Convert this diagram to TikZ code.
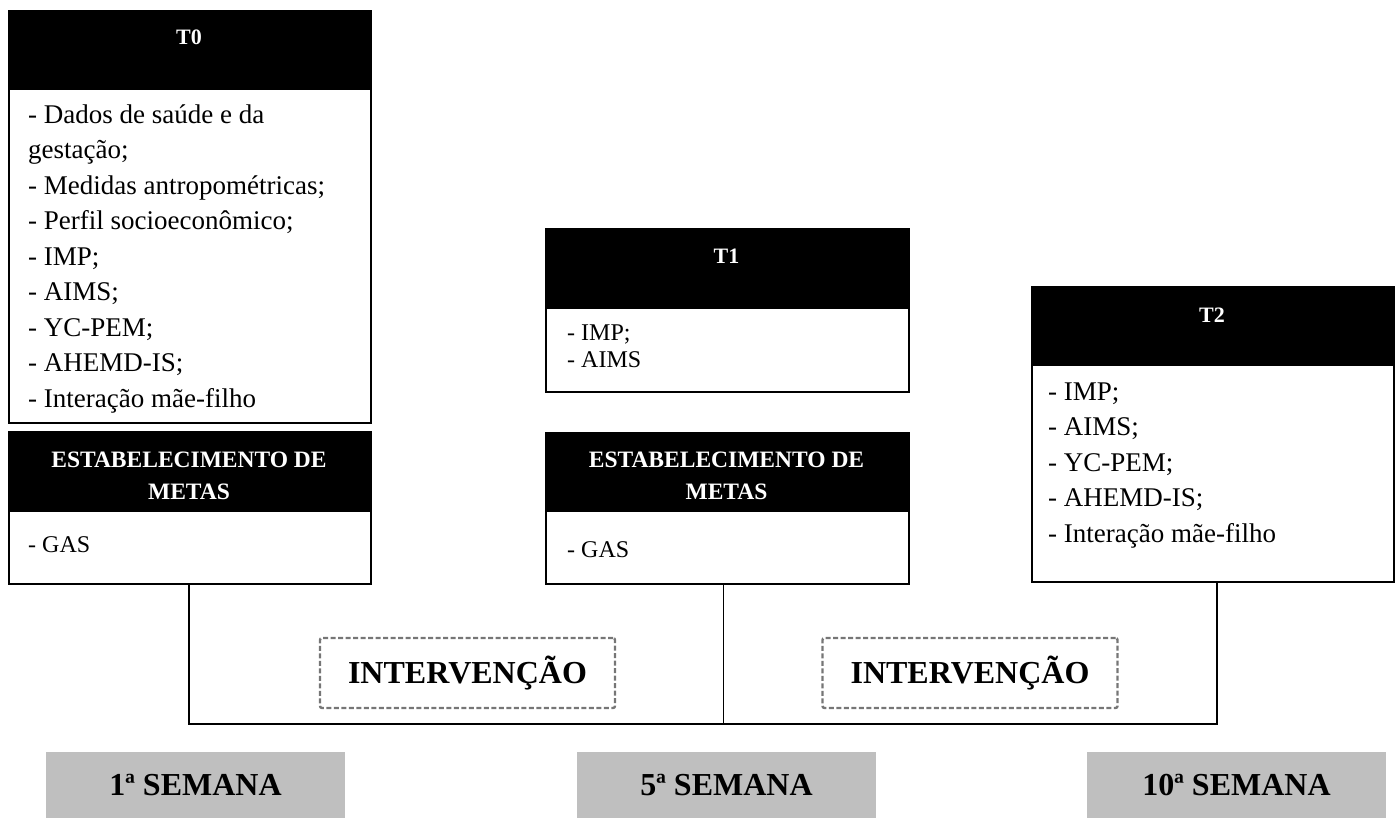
\documentclass[tikz,border=0pt]{standalone}
\usepackage{fontspec}
\setmainfont{Liberation Serif}
\definecolor{semgray}{HTML}{BFBFBF}
\definecolor{dashgray}{HTML}{767676}
\begin{document}
\begin{tikzpicture}[x=1pt,y=-1pt,
  box/.style={draw=black, line width=2pt, anchor=north west, inner sep=0pt, minimum width=362pt},
  hdr/.style={box, fill=black},
  bod/.style={box, fill=white},
  hdrtxt/.style={text=white, font=\fontsize{22}{25}\selectfont\bfseries, anchor=base, inner sep=0pt},
  esttxt/.style={text=white, font=\fontsize{23.5}{32}\selectfont\bfseries, align=center, anchor=north, inner sep=0pt},
  bodytxt/.style={anchor=north west, inner sep=0pt, align=left, font=\fontsize{27}{35.5}\selectfont},
  smalltxt/.style={anchor=north west, inner sep=0pt, align=left, font=\fontsize{24}{27}\selectfont},
  interv/.style={draw=dashgray, line width=2.4pt, dash pattern=on 5pt off 2.5pt, rounded corners=2pt, minimum width=295pt, minimum height=70pt, inner sep=0pt, font=\fontsize{32}{36}\selectfont\bfseries},
  semana/.style={fill=semgray, minimum width=299pt, minimum height=66pt, inner sep=0pt, font=\fontsize{32}{36}\selectfont\bfseries},
  conn/.style={draw=black, line width=1.3pt}
]
\useasboundingbox (0,0) rectangle (1397,818);

% T0
\node[hdr, minimum height=78pt] (t0h) at (8,10) {};
\node[bod, minimum height=334pt] (t0b) at (8,88) {};
\node[hdrtxt] (t0ht) at (189,45) {T0};
\node[bodytxt] (t0t) at (28,98) {\strut- Dados de saúde e da\\gestação;\\- Medidas antropométricas;\\- Perfil socioeconômico;\\- IMP;\\- AIMS;\\- YC-PEM;\\- AHEMD-IS;\\- Interação mãe-filho};

% EST1
\node[hdr, minimum height=79pt] (e1h) at (8,431) {};
\node[bod, minimum height=73pt] (e1b) at (8,510) {};
\node[esttxt] (e1ht) at (189,445) {\strut ESTABELECIMENTO DE\\METAS};
\node[smalltxt] (e1t) at (28,533) {\strut- GAS};

% T1
\node[hdr, minimum height=79pt, minimum width=363pt] (t1h) at (545,228) {};
\node[bod, minimum height=84pt, minimum width=363pt] (t1b) at (545,307) {};
\node[hdrtxt] (t1ht) at (726.5,264) {T1};
\node[smalltxt] (t1t) at (567,321) {\strut- IMP;\\- AIMS};

% EST2
\node[hdr, minimum height=78pt, minimum width=363pt] (e2h) at (545,432) {};
\node[bod, minimum height=73pt, minimum width=363pt] (e2b) at (545,510) {};
\node[esttxt] (e2ht) at (726.5,445) {\strut ESTABELECIMENTO DE\\METAS};
\node[smalltxt] (e2t) at (567,538) {\strut- GAS};

% T2
\node[hdr, minimum height=78pt] (t2h) at (1031,286) {};
\node[bod, minimum height=217pt] (t2b) at (1031,364) {};
\node[hdrtxt] (t2ht) at (1212,322) {T2};
\node[bodytxt] (t2t) at (1048,375) {\strut- IMP;\\- AIMS;\\- YC-PEM;\\- AHEMD-IS;\\- Interação mãe-filho};

% connectors
\coordinate (base) at (0,724);
\coordinate (c1) at ([xshift=-1pt]e1b.south);
\coordinate (c2) at ([xshift=-4pt]e2b.south);
\coordinate (c3) at ([xshift=4pt]t2b.south);
\draw[conn] (c1) -- (c1 |- base) -- (c3 |- base) -- (c3);
\draw[conn] (c2) -- (c2 |- base);

% interventions
\node[interv] (iv1) at (467.5,673) {INTERVENÇÃO};
\node[interv] (iv2) at (970,673) {INTERVENÇÃO};

% weeks
\node[semana] (w1) at (195.5,785) {1ª SEMANA};
\node[semana] (w2) at (726.5,785) {5ª SEMANA};
\node[semana] (w3) at (1236.5,785) {10ª SEMANA};
\end{tikzpicture}
\end{document}
